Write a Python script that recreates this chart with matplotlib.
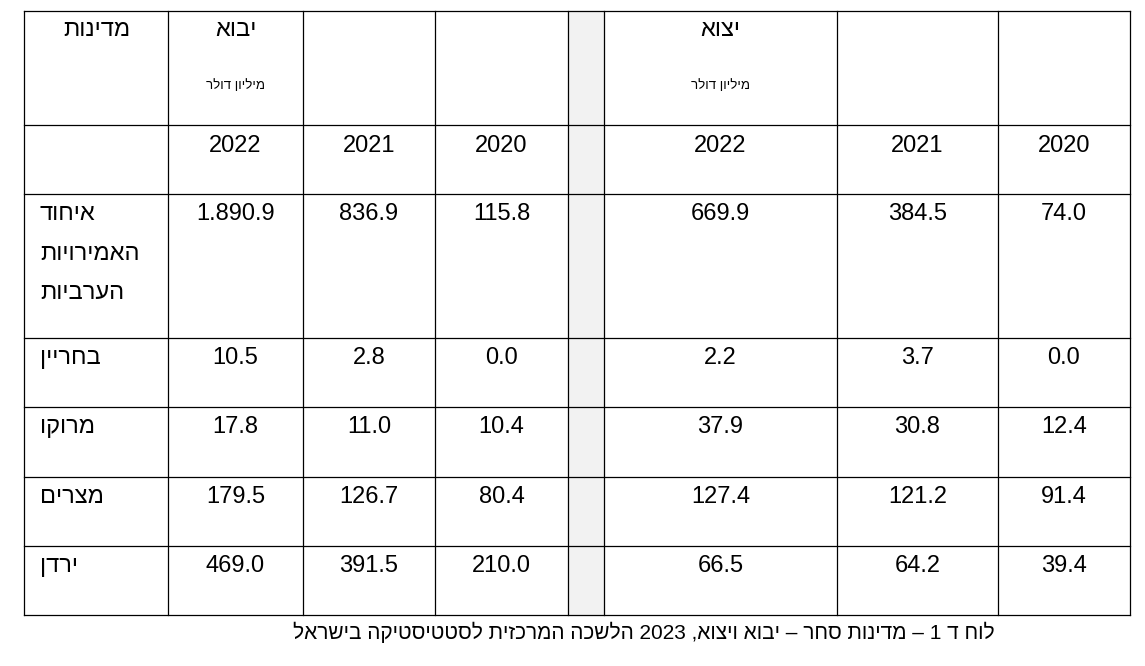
import re
import matplotlib
matplotlib.use("Agg")
import matplotlib.pyplot as plt
from matplotlib.patches import Rectangle

def vis(s):
    r = s[::-1]
    return re.sub(r"[0-9.]+", lambda m: m.group(0)[::-1], r)

countries = [["איחוד", "האמירויות", "הערביות"], ["בחריין"], ["מרוקו"], ["מצרים"], ["ירדן"]]
years = ["2022", "2021", "2020"]
imports = [["1.890.9", "836.9", "115.8"], ["10.5", "2.8", "0.0"], ["17.8", "11.0", "10.4"],
           ["179.5", "126.7", "80.4"], ["469.0", "391.5", "210.0"]]
exports = [["669.9", "384.5", "74.0"], ["2.2", "3.7", "0.0"], ["37.9", "30.8", "12.4"],
           ["127.4", "121.2", "91.4"], ["66.5", "64.2", "39.4"]]
caption = "לוח ד 1 – מדינות סחר – יבוא ויצוא, 2023 הלשכה המרכזית לסטטיסטיקה בישראל"

W, H = 1145, 666
fig = plt.figure(figsize=(W/100, H/100), dpi=100)
ax = fig.add_axes([0, 0, 1, 1])
ax.set_xlim(0, W); ax.set_ylim(H, 0); ax.axis("off")
plt.rcParams['font.family'] = ['Liberation Sans', 'DejaVu Sans']
F = dict(family=['Liberation Sans', 'DejaVu Sans'])

xs = [24, 168, 303, 435, 568, 604, 837, 998, 1130]
ys = [11, 125, 194, 338, 407, 477, 546, 615]
ax.add_patch(Rectangle((568, 11), 36, 604, color="#f2f2f2", zorder=0))
for x in xs:
    ax.plot([x, x], [ys[0], ys[-1]], color="black", lw=0.9)
for y in ys:
    ax.plot([xs[0], xs[-1]], [y, y], color="black", lw=0.9)

fs = 17
imp_c = [(xs[1]+xs[2])/2, (xs[2]+xs[3])/2, (xs[3]+xs[4])/2]
exp_c = [(xs[5]+xs[6])/2, (xs[6]+xs[7])/2, (xs[7]+xs[8])/2]

ax.text(97, 30, vis("מדינות"), ha="center", va="center", fontsize=fs, **F)
ax.text(imp_c[0], 30, vis("יבוא"), ha="center", va="center", fontsize=fs, **F)
ax.text(exp_c[0], 30, vis("יצוא"), ha="center", va="center", fontsize=fs, **F)
ax.text(imp_c[0], 86, vis("מיליון דולר"), ha="center", va="center", fontsize=9.5, **F)
ax.text(exp_c[0], 86, vis("מיליון דולר"), ha="center", va="center", fontsize=9.5, **F)
for i, yr in enumerate(years):
    ax.text(imp_c[i], 146, yr, ha="center", va="center", fontsize=fs, **F)
    ax.text(exp_c[i], 146, yr, ha="center", va="center", fontsize=fs, **F)

for r in range(len(countries)):
    top = ys[r+2]
    for j, line in enumerate(countries[r]):
        ax.text(40, top + 20 + j*39.5, vis(line), ha="left", va="center", fontsize=fs, **F)
    for i in range(3):
        ax.text(imp_c[i], top + 20, imports[r][i], ha="center", va="center", fontsize=fs, **F)
        ax.text(exp_c[i], top + 20, exports[r][i], ha="center", va="center", fontsize=fs, **F)

ax.text(644, 632, vis(caption), ha="center", va="center", fontsize=15, **F)
fig.savefig("out.png", dpi=100)
